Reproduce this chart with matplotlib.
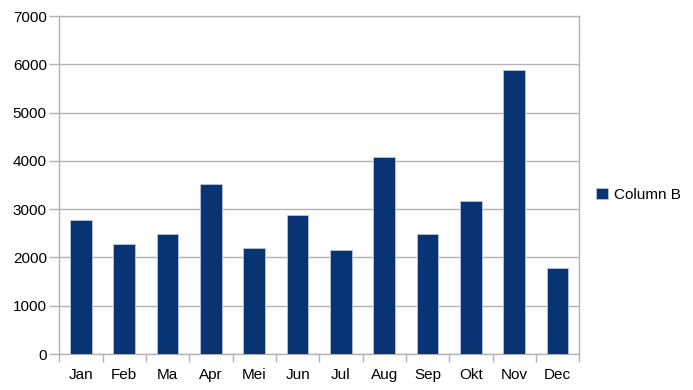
import numpy as np
import matplotlib
matplotlib.use('Agg')
import matplotlib.pyplot as plt

# datos del gráfico
meses = ['Jan', 'Feb', 'Ma', 'Apr', 'Mei', 'Jun', 'Jul', 'Aug', 'Sep', 'Okt', 'Nov', 'Dec']
column_b = [2780, 2270, 2490, 3520, 2200, 2870, 2150, 4080, 2490, 3160, 5880, 1780]
yticks = [0, 1000, 2000, 3000, 4000, 5000, 6000, 7000]

plt.rcParams['font.family'] = ['Liberation Sans', 'DejaVu Sans']
plt.rcParams['font.size'] = 11

cor = '#083474'
cinza = '#b3b3b3'

fig = plt.figure(figsize=(6.93, 3.9), dpi=100)
ax = fig.add_axes([59.3 / 693, 36 / 390, 520 / 693, 338 / 390])

x = np.arange(len(meses))
ax.bar(x, column_b, width=0.5, color=cor, edgecolor='#b8c6dc', linewidth=0.6,
       label='Column B', zorder=3)

ax.set_xlim(-0.5, len(meses) - 0.5)
ax.set_ylim(0, 7000)
ax.set_yticks(yticks)
ax.set_xticks(x)
ax.set_xticklabels(meses)
ax.set_xticks(np.arange(-0.5, len(meses), 1), minor=True)

ax.grid(axis='y', color=cinza, linewidth=1, zorder=0)
for s in ax.spines.values():
    s.set_color(cinza)
    s.set_linewidth(1)

ax.tick_params(axis='x', which='major', length=0, pad=10, colors='black')
ax.tick_params(axis='x', which='minor', length=6, color=cinza, width=1)
ax.tick_params(axis='y', length=7, color=cinza, width=1, pad=2)

fig.legend(loc='center left', bbox_to_anchor=(590 / 693, 195 / 390),
           frameon=False, handlelength=0.75, handleheight=0.75,
           handletextpad=0.4, borderaxespad=0)

fig.savefig('out.png', dpi=100)
